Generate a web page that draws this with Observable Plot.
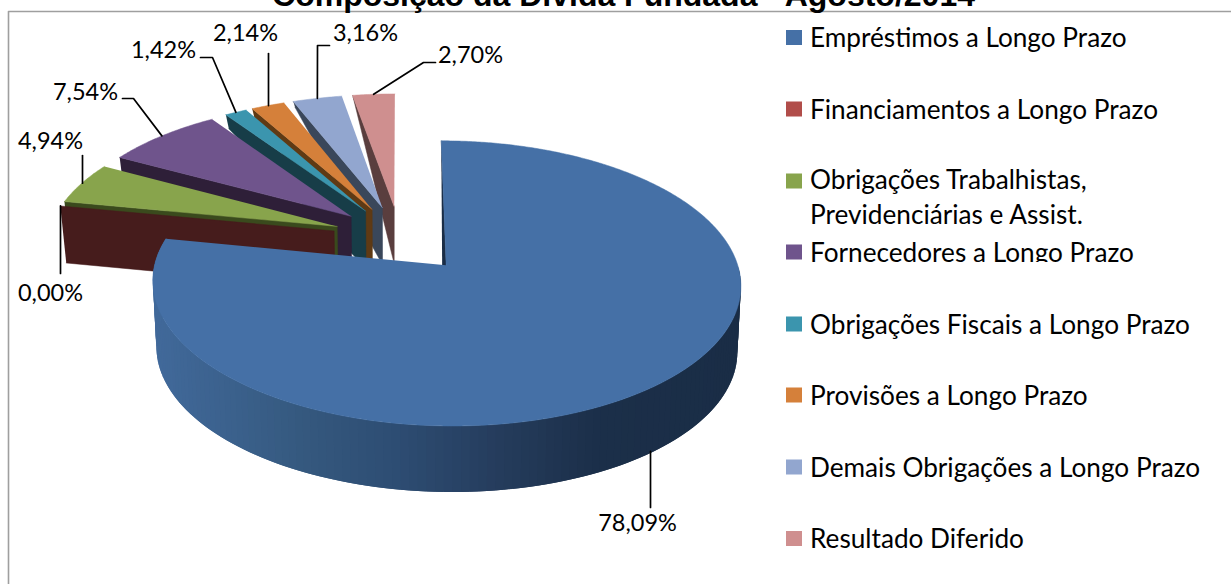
<!DOCTYPE html>
<html><head><meta charset="utf-8">
<style>html,body{margin:0;padding:0;background:#fff;overflow:hidden}svg{display:block}</style>
<script src="https://cdn.jsdelivr.net/npm/d3@7"></script>
<script src="https://cdn.jsdelivr.net/npm/@observablehq/plot@0.6"></script>
</head><body><div id="chart"></div>
<script>
const title = "Composição da Dívida Fundada - Agosto/2014";
const categories = ["Empréstimos a Longo Prazo","Financiamentos a Longo Prazo","Obrigações Trabalhistas,\nPrevidenciárias e Assist.","Fornecedores a Longo Prazo","Obrigações Fiscais a Longo Prazo","Provisões a Longo Prazo","Demais Obrigações a Longo Prazo","Resultado Diferido"];
const shares = [78.09,0.00,4.94,7.54,1.42,2.14,3.16,2.70];
const topColors = ["#4570a6","#b14d4a","#88a44c","#6f548c","#3b95ae","#d5803a","#92a6cf","#cf8f8f"];
const sideColors = ["#1a2d46","#461c1c","#3a4a1d","#2e1f38","#173d48","#5f3a14","#3a475a","#5a3e3e"];
const legendRowY = [35,107,195,250,322,393,465,536];

// projection of the pie plane
const P = {explode:.233, p:.125, K:134, main:{Rx:285,cx:402.5,cy:240,depth:66,vx:447,conv:.012}, rest:{Rx:289,cx:399.3,cy:236.5,depth:57,vx:390,conv:.018}};
const total = d3.sum(shares);
let cum = 0;
const slices = shares.map((v,i)=>{const a0=cum/total*360; cum+=v; const a1=cum/total*360; return {i,v,a0,a1,mid:(a0+a1)/2};});
const rad = d=>d*Math.PI/180;
function planePoint(s,r,a){
  const e=P.explode;
  return {u:e*Math.sin(rad(s.mid))+r*Math.sin(rad(a)), v:e*Math.cos(rad(s.mid))+r*Math.cos(rad(a))};
}
function project(s,q){
  const g=s.i===0?P.main:P.rest, k=1/(1+P.p*q.v);
  return {x:g.cx+g.Rx*q.u*k, y:g.cy-P.K*q.v*k};
}
const top3d=(s,r,a)=>project(s,planePoint(s,r,a));
function low3d(s,r,a){
  const g=s.i===0?P.main:P.rest, q=planePoint(s,r,a), t=project(s,q);
  const d=g.depth*Math.max(.03,Math.min(1,1-(q.v-.35)/.9));
  return {x:t.x+(g.vx-t.x)*g.conv, y:t.y+d};
}
const polys=[], bands=[]; let pid=0;
const addPoly=(list,pts,color)=>{pid++; pts.forEach(p=>list.push({poly:pid,x:p.x,y:p.y,color}));};
const wallColor=d3.scaleLinear().domain([155,300,400,500,600,739]).range(["#41699a","#35597f","#2d4c72","#253c5c","#1b2f49","#1a2d46"]).clamp(true);

// main wall bands (overlapping to hide seams)
const m=slices[0];
for(let a=90;a<m.a1;a+=1.5){
  const b=Math.min(a+3,m.a1);
  const A=top3d(m,1,a),B=top3d(m,1,b),C=low3d(m,1,b),D=low3d(m,1,a);
  addPoly(bands,[A,B,C,D],d3.color(wallColor((A.x+top3d(m,1,a+1.5).x)/2)).formatHex());
}
// small slices, back to front
for(const s of slices.slice(1).reverse()){
  addPoly(polys,[top3d(s,1,s.a0),top3d(s,0,s.a0),low3d(s,0,s.a0),low3d(s,1,s.a0)],sideColors[s.i]);
  if(s.v>0){
    const pts=[top3d(s,0,s.a0)];
    for(let a=s.a0;a<s.a1;a+=.5) pts.push(top3d(s,1,a));
    pts.push(top3d(s,1,s.a1));
    addPoly(polys,pts,topColors[s.i]);
  }
}
// main slice: thin start face, then top
const mainPolys=[];
{
  const r=top3d(m,1,m.a0), ap=top3d(m,0,m.a0);
  addPoly(polys,[r,ap,{x:ap.x-3.5,y:ap.y+P.main.depth}],sideColors[0]);
  const pts=[top3d(m,0,m.a0)];
  for(let a=m.a0;a<m.a1;a+=.5) pts.push(top3d(m,1,a));
  pts.push(top3d(m,1,m.a1));
  addPoly(mainPolys,pts,topColors[0]);
}

// data labels and their leaders
const fmt=v=>v.toFixed(2).replace(".",",")+"%";
const labelLayout=[
 {lx:637,ly:523,elbow:[],low:true,fixX:650,endY:507},
 {lx:50,ly:293,elbow:[],fixX:60,endY:273},
 {lx:50,ly:141,elbow:[],fixX:82,endY:155},
 {lx:85,ly:92,elbow:[[133,98],[122,98]]},
 {lx:163,ly:50,elbow:[[212,57],[200,57]]},
 {lx:245,ly:33,elbow:[],fixX:268,endY:53},
 {lx:365,ly:33,elbow:[[317,45],[329,45]]},
 {lx:470,ly:55,elbow:[[423,62],[435,62]]}
];
const leaders=[];
const labels=slices.map((s,i)=>{
  const L=labelLayout[i];
  const a=L.low?low3d(s,1,s.mid):top3d(s,1,s.mid);
  leaders.push({id:i,x:L.fixX??a.x,y:a.y});
  L.elbow.forEach(([x,y])=>leaders.push({id:i,x,y}));
  if(L.endY!=null) leaders.push({id:i,x:L.fixX,y:L.endY});
  return {x:L.lx,y:L.ly,text:fmt(s.v)};
});

// legend
const swatchW=16, swatchH=15, swatchX=786, legendX=809.5;
const swatchRowY=[37.5,109,181,252,324,395,467,538.5];
const swatches=categories.map((c,i)=>({x1:swatchX,x2:swatchX+swatchW,y1:swatchRowY[i]-swatchH/2,y2:swatchRowY[i]+swatchH/2,color:topColors[i]}));
const legendText=categories.map((c,i)=>({x:legendX,y:legendRowY[i],text:c}));
const legendCut=[{x1:809,x2:1142,y1:262,y2:270}];

const border=[{x:8,y:584},{x:8,y:11},{x:1231,y:11}];

const chart=Plot.plot({
  width:1231,height:584,margin:0,
  x:{domain:[0,1231],range:[0,1231],axis:null},
  y:{domain:[0,584],range:[0,584],axis:null},
  color:{type:"identity"},
  style:{background:"#fff",fontFamily:"Lato"},
  marks:[
    Plot.line(border,{x:"x",y:"y",stroke:"#9f9f9f",strokeWidth:1.6}),
    Plot.text([{x:623,y:5}],{x:"x",y:"y",text:()=>title,lineAnchor:"bottom",textAnchor:"middle",fontFamily:"Liberation Sans",fontWeight:"bold",fontSize:32,fill:"#000"}),
    Plot.line(polys,{x:"x",y:"y",z:"poly",fill:"color",stroke:"color",strokeWidth:.5,curve:"linear"}),
    Plot.line(bands,{x:"x",y:"y",z:"poly",fill:"color",curve:"linear",stroke:"none"}),
    Plot.line(mainPolys,{x:"x",y:"y",z:"poly",fill:"color",stroke:"color",strokeWidth:.5,curve:"linear"}),
    Plot.line(leaders,{x:"x",y:"y",z:"id",stroke:"#000",strokeWidth:1.7,curve:"linear"}),
    Plot.text(labels,{x:"x",y:"y",text:"text",fontSize:23.5,fill:"#000",lineAnchor:"middle"}),
    Plot.rect(swatches,{x1:"x1",x2:"x2",y1:"y1",y2:"y2",fill:"color"}),
    Plot.text(legendText,{x:"x",y:"y",text:"text",textAnchor:"start",lineAnchor:"middle",fontSize:26.2,lineHeight:1.32,fill:"#000"}),
    Plot.rect(legendCut,{x1:"x1",x2:"x2",y1:"y1",y2:"y2",fill:"#fff"})
  ]
});
document.getElementById("chart").appendChild(chart);
</script></body></html>
